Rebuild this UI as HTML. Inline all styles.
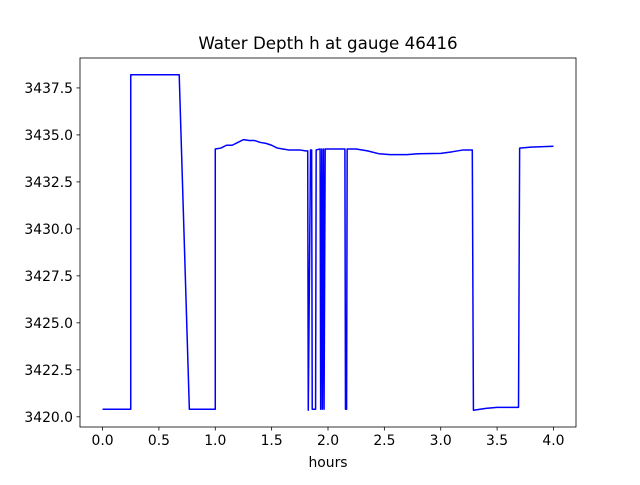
<!DOCTYPE html>
<html><head><meta charset="utf-8"><style>
body{margin:0;background:#fff}
svg text{font-family:"DejaVu Sans","Liberation Sans",sans-serif}
</style></head><body>
<svg id="c" width="640" height="480" xmlns="http://www.w3.org/2000/svg"></svg>
<script>
const xs=[0,0.25,0.25,0.68,0.77,1.0,1.0,1.05,1.1,1.15,1.2,1.25,1.3,1.35,1.4,1.45,1.5,1.55,1.6,1.65,1.7,1.75,1.8,1.82,1.825,1.845,1.855,1.86,1.89,1.895,1.93,1.935,1.945,1.95,1.96,1.965,1.975,2.15,2.155,2.165,2.17,2.25,2.35,2.45,2.55,2.7,2.8,3.0,3.1,3.2,3.28,3.29,3.4,3.5,3.69,3.7,3.8,4.0];
const ys=[3420.4,3420.4,3438.2,3438.2,3420.4,3420.4,3434.25,3434.3,3434.45,3434.45,3434.6,3434.75,3434.7,3434.7,3434.6,3434.55,3434.45,3434.3,3434.25,3434.2,3434.2,3434.2,3434.15,3434.15,3420.35,3434.2,3434.2,3420.4,3420.4,3434.2,3434.25,3420.4,3434.25,3420.4,3434.25,3420.4,3434.25,3434.25,3420.4,3420.4,3434.25,3434.25,3434.15,3434.0,3433.95,3433.95,3434.0,3434.02,3434.1,3434.2,3434.2,3420.35,3420.45,3420.5,3420.5,3434.3,3434.35,3434.4];
const xTicks=[0,0.5,1,1.5,2,2.5,3,3.5,4];
const xTickLabels=["0.0","0.5","1.0","1.5","2.0","2.5","3.0","3.5","4.0"];
const yTicks=[3420,3422.5,3425,3427.5,3430,3432.5,3435,3437.5];
const yTickLabels=["3420.0","3422.5","3425.0","3427.5","3430.0","3432.5","3435.0","3437.5"];
const L=80,R=576,T=58,B=427;
const x0=-0.2,x1=4.2;
const ymn=Math.min(...ys),ymx=Math.max(...ys),m=(ymx-ymn)*0.05;
const y0=ymn-m,y1=ymx+m;
const sx=v=>L+(v-x0)/(x1-x0)*(R-L);
const sy=v=>B-(v-y0)/(y1-y0)*(B-T);
const svg=document.getElementById('c');const NS="http://www.w3.org/2000/svg";
function mk(t,a,txt){const e=document.createElementNS(NS,t);for(const k in a)e.setAttribute(k,a[k]);if(txt!=null)e.textContent=txt;svg.appendChild(e);return e;}
let e=mk('path',{d:'M'+xs.map((v,i)=>sx(v).toFixed(2)+','+sy(ys[i]).toFixed(2)).join('L'),fill:'none',stroke:'#0000ff','stroke-width':1.5,'stroke-linejoin':'round'});


e=mk('rect',{x:L,y:T,width:R-L,height:B-T,fill:'none',stroke:'#000','stroke-width':0.8});


xTicks.forEach((v,i)=>{const p=sx(v);
 let t=mk('line',{x1:p,x2:p,y1:B,y2:B+3.5,stroke:'#000','stroke-width':0.8});
 
 
 t=mk('text',{x:p,y:B+18,'font-size':13.9,'text-anchor':'middle'},xTickLabels[i]);
 
 });
yTicks.forEach((v,i)=>{const p=sy(v);
 let t=mk('line',{x1:L-3.5,x2:L,y1:p,y2:p,stroke:'#000','stroke-width':0.8});
 
 
 t=mk('text',{x:L-7,y:p+5,'font-size':13.9,'text-anchor':'end'},yTickLabels[i]);
 
 });
e=mk('text',{x:(L+R)/2,y:467,'font-size':13.9,'text-anchor':'middle'},'hours');


e=mk('text',{x:(L+R)/2,y:49,'font-size':16.7,'text-anchor':'middle'},'Water Depth h at gauge 46416');


</script>
</body></html>
